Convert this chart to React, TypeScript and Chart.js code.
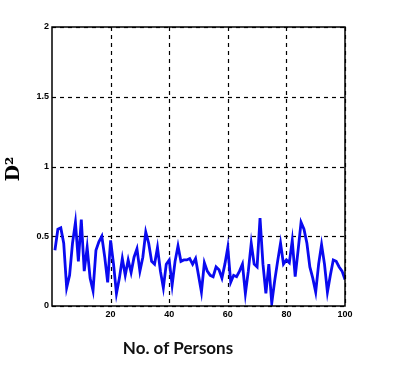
import React, { useEffect, useRef } from "react";
import { Chart, registerables } from "chart.js";

Chart.register(...registerables);

const persons: number[] = Array.from({ length: 100 }, (_, i) => i + 1);
const d2Values: number[] = [
  0.40, 0.55, 0.56, 0.45, 0.13, 0.22, 0.45, 0.60, 0.32, 0.62,
  0.25, 0.42, 0.20, 0.11, 0.40, 0.46, 0.50, 0.35, 0.17, 0.47,
  0.30, 0.09, 0.20, 0.34, 0.22, 0.33, 0.24, 0.35, 0.41, 0.25,
  0.35, 0.53, 0.45, 0.32, 0.30, 0.42, 0.25, 0.13, 0.30, 0.33,
  0.15, 0.32, 0.43, 0.32, 0.33, 0.33, 0.34, 0.30, 0.34, 0.22,
  0.10, 0.31, 0.25, 0.22, 0.21, 0.28, 0.26, 0.20, 0.30, 0.42,
  0.17, 0.22, 0.21, 0.25, 0.30, 0.09, 0.25, 0.45, 0.30, 0.28,
  0.63, 0.30, 0.09, 0.30, 0.02, 0.18, 0.32, 0.45, 0.30, 0.33,
  0.31, 0.47, 0.21, 0.40, 0.60, 0.55, 0.45, 0.28, 0.20, 0.10,
  0.30, 0.44, 0.30, 0.10, 0.22, 0.33, 0.32, 0.28, 0.25, 0.19,
];
const xTicks: number[] = [20, 40, 60, 80, 100];
const yTicks: number[] = [0, 0.5, 1, 1.5, 2];
const xTitle = "No. of Persons";
const yTitle = "D²";

export default function App() {
  const ref = useRef<HTMLCanvasElement | null>(null);
  useEffect(() => {
    document.body.style.margin = "0";
    const canvas = ref.current;
    if (!canvas) return;
    const gridPlugin = {
      id: "dashGrid",
      beforeDatasetsDraw(chart: any) {
        const { ctx, chartArea, scales } = chart;
        ctx.save();
        ctx.strokeStyle = "#000";
        ctx.lineWidth = 1.2;
        ctx.setLineDash([4, 4]);
        xTicks.forEach((v) => {
          const px = Math.round(scales.x.getPixelForValue(v)) + 0.5;
          ctx.beginPath();
          ctx.moveTo(px, chartArea.top);
          ctx.lineTo(px, chartArea.bottom);
          ctx.stroke();
        });
        yTicks.forEach((v) => {
          const py = Math.round(scales.y.getPixelForValue(v)) + 0.5;
          ctx.beginPath();
          ctx.moveTo(chartArea.left, py);
          ctx.lineTo(chartArea.right, py);
          ctx.stroke();
        });
        ctx.restore();
      },
      afterDraw(chart: any) {
        const { ctx, chartArea } = chart;
        ctx.save();
        ctx.strokeStyle = "#000";
        ctx.lineWidth = 1.5;
        ctx.setLineDash([]);
        ctx.strokeRect(chartArea.left, chartArea.top, chartArea.right - chartArea.left, chartArea.bottom - chartArea.top);
        ctx.fillStyle = "#111";
        ctx.font = "bold 17px Lato, 'Liberation Sans', sans-serif";
        ctx.textAlign = "center";
        ctx.textBaseline = "middle";
        ctx.fillText(xTitle, 178, 349);
        ctx.translate(14, 169);
        ctx.rotate(-Math.PI / 2);
        ctx.fillStyle = "#000";
        ctx.font = "bold 19px 'DejaVu Serif', serif";
        ctx.fillText(yTitle, 0, 0);
        ctx.restore();
      },
    };
    const chart = new Chart(canvas, {
      type: "line",
      data: {
        datasets: [
          {
            data: persons.map((p, i) => ({ x: p, y: d2Values[i] })),
            borderColor: "#0a0af0",
            borderWidth: 2.8,
            pointRadius: 0,
            tension: 0,
            fill: false,
          },
        ],
      },
      options: {
        animation: false,
        responsive: false,
        layout: { padding: { top: 27, right: 51, left: 0, bottom: 0 } },
        plugins: { legend: { display: false }, tooltip: { enabled: false } },
        scales: {
          x: {
            type: "linear",
            min: 0,
            max: 100,
            afterFit: (axis: any) => { axis.height = 76; },
            afterBuildTicks: (axis: any) => { axis.ticks = xTicks.map((v) => ({ value: v })); },
            ticks: {
              color: "#000",
              font: { size: 9, weight: "bold", family: "'Liberation Sans', Arial, sans-serif" },
              padding: 3,
              maxRotation: 0,
              callback: (v: any) => String(v),
            },
            grid: { display: false, drawTicks: false },
            border: { display: false },
          },
          y: {
            min: 0,
            max: 2,
            afterFit: (axis: any) => { axis.width = 52; },
            afterBuildTicks: (axis: any) => { axis.ticks = yTicks.map((v) => ({ value: v })); },
            ticks: {
              color: "#000",
              font: { size: 9, weight: "bold", family: "'Liberation Sans', Arial, sans-serif" },
              padding: 3,
              callback: (v: any) => String(v),
            },
            grid: { display: false, drawTicks: false },
            border: { display: false },
          },
        },
      },
      plugins: [gridPlugin],
    } as any);
    return () => chart.destroy();
  }, []);
  return <canvas ref={ref} width={396} height={382} style={{ display: "block" }} />;
}
